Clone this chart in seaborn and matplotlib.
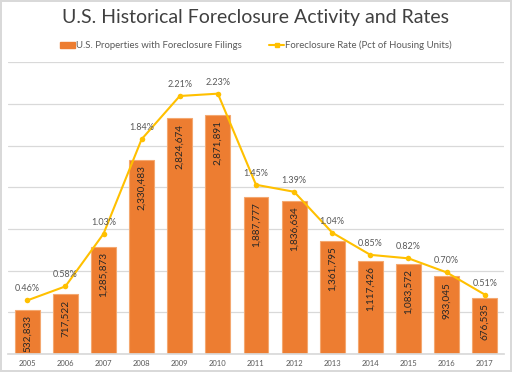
import matplotlib
matplotlib.use("Agg")
import matplotlib.pyplot as plt
import seaborn as sns
import numpy as np
from matplotlib.lines import Line2D
from matplotlib.patches import Patch

# data
years = ["2005", "2006", "2007", "2008", "2009", "2010", "2011",
         "2012", "2013", "2014", "2015", "2016", "2017"]
filings = [532833, 717522, 1285873, 2330483, 2824674, 2871891, 1887777,
           1836634, 1361795, 1117426, 1083572, 933045, 676535]
rates = [0.46, 0.58, 1.03, 1.84, 2.21, 2.23, 1.45,
         1.39, 1.04, 0.85, 0.82, 0.70, 0.51]

BAR_COLOR = "#ED7D31"
LINE_COLOR = "#FFC000"
GRID_COLOR = "#D9D9D9"
TEXT_GRAY = "#595959"

sns.set_theme(style="white")
plt.rcParams["font.family"] = ["Lato", "DejaVu Sans"]

fig = plt.figure(figsize=(5.12, 3.72), dpi=100)
fig.patch.set_edgecolor(GRID_COLOR)
fig.patch.set_linewidth(1.5)
ax = fig.add_axes([0.016, 0.048, 0.968, 0.785])

sns.barplot(x=years, y=filings, color=BAR_COLOR, width=0.65,
            edgecolor="#F4A870", linewidth=0.8, saturation=1, ax=ax)
ax.set_ylim(0, 3500000)
ax.set_yticks(np.arange(0, 3500001, 500000))
ax.yaxis.grid(True, color=GRID_COLOR, linewidth=0.9)
ax.set_axisbelow(True)
ax.set_yticklabels([])
ax.tick_params(axis="y", length=0)
ax.tick_params(axis="x", length=0, labelsize=5.5, labelcolor=TEXT_GRAY, pad=4)
for side in ["left", "right", "top"]:
    ax.spines[side].set_visible(False)
ax.spines["bottom"].set_color(GRID_COLOR)
ax.set_xlim(-0.5, len(years) - 0.5)

# values inside the top of each bar
for bar, v in zip(ax.patches, filings):
    ax.annotate(f"{v:,}", (bar.get_x() + bar.get_width() / 2, bar.get_height()),
                xytext=(0, -4), textcoords="offset points", rotation=90,
                ha="center", va="top", fontsize=7.2, color="#262626")

ax2 = ax.twinx()
sns.lineplot(x=years, y=rates, color=LINE_COLOR, linewidth=1.5, marker="o",
             markersize=4, markeredgewidth=0, sort=False, ax=ax2)
ax2.set_ylim(0, 2.5)
ax2.set_yticks([])
ax2.set_xlim(-0.5, len(years) - 0.5)
for side in ["left", "right", "top", "bottom"]:
    ax2.spines[side].set_visible(False)

for i, r in enumerate(rates):
    ax2.annotate(f"{r:.2f}%", (i, r), xytext=(0, 5), textcoords="offset points",
                 ha="center", va="bottom", fontsize=6.5, color=TEXT_GRAY)

fig.suptitle("U.S. Historical Foreclosure Activity and Rates", y=0.975,
             fontsize=14, color="#404040")

handles = [Patch(facecolor=BAR_COLOR, edgecolor=BAR_COLOR),
           Line2D([0], [0], color=LINE_COLOR, marker="s", markersize=3, linewidth=1.5)]
fig.legend(handles, ["U.S. Properties with Foreclosure Filings",
                     "Foreclosure Rate (Pct of Housing Units)"],
           loc="center", bbox_to_anchor=(0.5, 0.878), ncol=2, frameon=False,
           fontsize=6.9, labelcolor=TEXT_GRAY, handlelength=1.6,
           handleheight=0.6, handletextpad=0.1, columnspacing=2.8)

fig.savefig("out.png", dpi=100, edgecolor=fig.get_edgecolor())
